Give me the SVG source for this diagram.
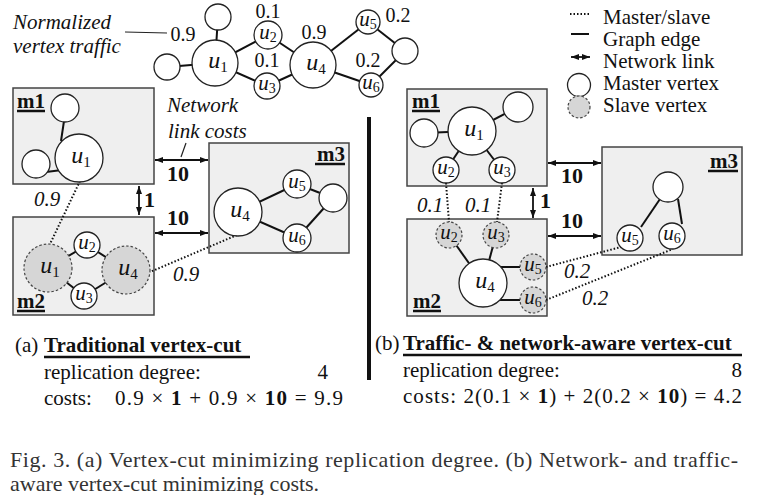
<svg xmlns="http://www.w3.org/2000/svg" width="758" height="495" viewBox="0 0 758 495">
<defs>
<marker id="ah" viewBox="0 0 8 6" refX="8" refY="3" markerWidth="8" markerHeight="6" markerUnits="userSpaceOnUse" orient="auto-start-reverse"><path d="M0,0 L8,3 L0,6 z" fill="#111"/></marker>
<style>
text{font-family:"Liberation Serif","Times New Roman",serif;fill:#111}
.t{font-size:21px}
.it{font-size:21px;font-style:italic}
.num{font-size:20px;text-anchor:middle}
.inum{font-size:21px;font-style:italic;text-anchor:middle}
.b{font-weight:bold}
.bn{font-size:22px;font-weight:bold}
.box{fill:#efefef;stroke:#444;stroke-width:1.5}
.mv{fill:#fff;stroke:#222;stroke-width:1.3}
.sv{fill:#d6d6d6;stroke:#444;stroke-width:1.2;stroke-dasharray:2.5 2}
.e{stroke:#111;stroke-width:2;fill:none}
.ms{stroke:#111;stroke-width:2;stroke-dasharray:1.5 2;fill:none}
.nl{stroke:#111;stroke-width:1.8}
.ptr{stroke:#222;stroke-width:1.2}
.ul{stroke:#111;stroke-width:2.5}
.u{font-size:24px;text-anchor:middle}
.us{font-size:21px;text-anchor:middle}
.i{font-style:italic}
.s{font-size:15px}
.us .s{font-size:14px}
.ml{font-size:21px;font-weight:bold}
.cap{font-size:22px;fill:#333}
</style>
</defs>
<rect width="758" height="495" fill="#fff"/>

<!-- machine boxes -->
<g id="a-m1"><rect class="box" x="13" y="88" width="141" height="96"/><text class="ml" x="17" y="108">m1</text><line class="ul" x1="17" y1="111" x2="45" y2="111"/></g>
<g id="a-m2"><rect class="box" x="13" y="217" width="141" height="98"/><text class="ml" x="17" y="308">m2</text><line class="ul" x1="17" y1="311" x2="45" y2="311"/></g>
<g id="a-m3"><rect class="box" x="209" y="143" width="140" height="110"/><text class="ml" x="345" y="161" text-anchor="end">m3</text><line class="ul" x1="315" y1="164" x2="345" y2="164"/></g>
<g id="b-m1"><rect class="box" x="407" y="89" width="140" height="97"/><text class="ml" x="412" y="108">m1</text><line class="ul" x1="412" y1="111" x2="440" y2="111"/></g>
<g id="b-m2"><rect class="box" x="407" y="219" width="140" height="97"/><text class="ml" x="413" y="308">m2</text><line class="ul" x1="413" y1="311" x2="441" y2="311"/></g>
<g id="b-m3"><rect class="box" x="602" y="147" width="140" height="108"/><text class="ml" x="738" y="168" text-anchor="end">m3</text><line class="ul" x1="708" y1="171" x2="738" y2="171"/></g>

<!-- connectors -->
<g id="connectors">
  <!-- top graph -->
  <line class="e" x1="218" y1="17" x2="215" y2="63"/>
  <line class="e" x1="167" y1="67" x2="215" y2="63"/>
  <line class="e" x1="215" y1="63" x2="268" y2="35"/>
  <line class="e" x1="215" y1="63" x2="267" y2="86"/>
  <line class="e" x1="268" y1="35" x2="313" y2="65"/>
  <line class="e" x1="267" y1="86" x2="313" y2="65"/>
  <line class="e" x1="313" y1="65" x2="368" y2="22"/>
  <line class="e" x1="313" y1="65" x2="371" y2="85"/>
  <line class="e" x1="368" y1="22" x2="405" y2="51"/>
  <line class="e" x1="371" y1="85" x2="405" y2="51"/>
  <line class="ptr" x1="125" y1="32" x2="167" y2="33"/>
  <!-- (a) -->
  <line class="e" x1="64" y1="121" x2="61" y2="141"/>
  <line class="e" x1="46" y1="172" x2="62" y2="170"/>
  <line class="e" x1="238" y1="212" x2="297" y2="184"/>
  <line class="e" x1="238" y1="212" x2="297" y2="238"/>
  <line class="e" x1="297" y1="184" x2="333" y2="198"/>
  <line class="e" x1="297" y1="238" x2="333" y2="198"/>
  <line class="e" x1="48" y1="268" x2="87" y2="245"/>
  <line class="e" x1="87" y1="245" x2="126" y2="270"/>
  <line class="e" x1="48" y1="268" x2="84" y2="296"/>
  <line class="e" x1="84" y1="296" x2="126" y2="270"/>
  <line class="ms" x1="80" y1="181" x2="50" y2="244"/>
  <line class="ms" x1="237" y1="235" x2="150" y2="272"/>
  <line class="nl" x1="139" y1="186" x2="139" y2="215" marker-start="url(#ah)" marker-end="url(#ah)"/>
  <line class="nl" x1="155" y1="160" x2="208" y2="160" marker-start="url(#ah)" marker-end="url(#ah)"/>
  <line class="nl" x1="155" y1="233" x2="208" y2="233" marker-start="url(#ah)" marker-end="url(#ah)"/>
  <line class="ptr" x1="186" y1="143" x2="181" y2="157"/>
  <!-- (b) -->
  <line class="e" x1="424" y1="133" x2="472" y2="131"/>
  <line class="e" x1="472" y1="131" x2="518" y2="107"/>
  <line class="e" x1="472" y1="131" x2="446" y2="170"/>
  <line class="e" x1="472" y1="131" x2="502" y2="170"/>
  <line class="e" x1="660" y1="199" x2="641" y2="227"/>
  <line class="e" x1="678" y1="199" x2="682" y2="224"/>
  <line class="e" x1="449" y1="235" x2="483" y2="283"/>
  <line class="e" x1="496" y1="235" x2="483" y2="283"/>
  <line class="e" x1="500" y1="267" x2="521" y2="267"/>
  <line class="e" x1="500" y1="300" x2="521" y2="300"/>
  <line class="ms" x1="446" y1="183" x2="449" y2="222"/>
  <line class="ms" x1="502" y1="183" x2="497" y2="222"/>
  <line class="ms" x1="546" y1="267" x2="621" y2="247"/>
  <line class="ms" x1="546" y1="300" x2="673" y2="249"/>
  <line class="nl" x1="533" y1="188" x2="533" y2="218" marker-start="url(#ah)" marker-end="url(#ah)"/>
  <line class="nl" x1="548" y1="163" x2="601" y2="163" marker-start="url(#ah)" marker-end="url(#ah)"/>
  <line class="nl" x1="548" y1="236" x2="601" y2="236" marker-start="url(#ah)" marker-end="url(#ah)"/>
  <!-- divider -->
  <line x1="369" y1="117" x2="369" y2="380" stroke="#111" stroke-width="4"/>
</g>

<!-- top graph vertices -->
<g id="top-v-a"><circle class="mv" cx="218" cy="17" r="13"/></g>
<g id="top-v-b"><circle class="mv" cx="167" cy="67" r="13"/></g>
<g id="top-u1"><circle class="mv" cx="215" cy="63" r="23"/><text class="u" x="218" y="68"><tspan class="i">u</tspan><tspan class="s" dy="4">1</tspan></text></g>
<g id="top-u2"><circle class="mv" cx="268" cy="35" r="14"/><text class="us" x="268" y="39"><tspan class="i">u</tspan><tspan class="s" dy="3">2</tspan></text></g>
<g id="top-u3"><circle class="mv" cx="267" cy="86" r="13"/><text class="us" x="267" y="90"><tspan class="i">u</tspan><tspan class="s" dy="3">3</tspan></text></g>
<g id="top-u4"><circle class="mv" cx="313" cy="65" r="23"/><text class="u" x="316" y="70"><tspan class="i">u</tspan><tspan class="s" dy="4">4</tspan></text></g>
<g id="top-u5"><circle class="mv" cx="368" cy="22" r="12"/><text class="us" x="368" y="26"><tspan class="i">u</tspan><tspan class="s" dy="3">5</tspan></text></g>
<g id="top-u6"><circle class="mv" cx="371" cy="85" r="12"/><text class="us" x="371" y="89"><tspan class="i">u</tspan><tspan class="s" dy="3">6</tspan></text></g>
<g id="top-v-c"><circle class="mv" cx="405" cy="51" r="13"/></g>

<!-- top graph labels -->
<g id="top-labels">
  <text class="it" x="13" y="29">Normalized</text>
  <text class="it" x="13" y="53">vertex traffic</text>
  <text class="num" x="183" y="41">0.9</text>
  <text class="num" x="268" y="18">0.1</text>
  <text class="num" x="314" y="39">0.9</text>
  <text class="num" x="267" y="67">0.1</text>
  <text class="num" x="398" y="22">0.2</text>
  <text class="num" x="368" y="67">0.2</text>
</g>

<!-- (a) vertices -->
<g id="a-m1-va"><circle class="mv" cx="65" cy="108" r="14"/></g>
<g id="a-m1-vb"><circle class="mv" cx="36" cy="164" r="14"/></g>
<g id="a-m1-u1"><circle class="mv" cx="79" cy="158" r="24"/><text class="u" x="81" y="163"><tspan class="i">u</tspan><tspan class="s" dy="4">1</tspan></text></g>
<g id="a-m3-u4"><circle class="mv" cx="238" cy="212" r="24"/><text class="u" x="240" y="217"><tspan class="i">u</tspan><tspan class="s" dy="4">4</tspan></text></g>
<g id="a-m3-u5"><circle class="mv" cx="297" cy="184" r="14"/><text class="us" x="297" y="188"><tspan class="i">u</tspan><tspan class="s" dy="3">5</tspan></text></g>
<g id="a-m3-u6"><circle class="mv" cx="297" cy="238" r="14"/><text class="us" x="297" y="242"><tspan class="i">u</tspan><tspan class="s" dy="3">6</tspan></text></g>
<g id="a-m3-vc"><circle class="mv" cx="333" cy="198" r="14"/></g>
<g id="a-m2-u1s"><circle class="sv" cx="48" cy="268" r="24"/><text class="u" x="50" y="273"><tspan class="i">u</tspan><tspan class="s" dy="4">1</tspan></text></g>
<g id="a-m2-u4s"><circle class="sv" cx="126" cy="270" r="24"/><text class="u" x="128" y="275"><tspan class="i">u</tspan><tspan class="s" dy="4">4</tspan></text></g>
<g id="a-m2-u2"><circle class="mv" cx="87" cy="245" r="13"/><text class="us" x="87" y="249"><tspan class="i">u</tspan><tspan class="s" dy="3">2</tspan></text></g>
<g id="a-m2-u3"><circle class="mv" cx="84" cy="296" r="13"/><text class="us" x="84" y="300"><tspan class="i">u</tspan><tspan class="s" dy="3">3</tspan></text></g>

<!-- (a) labels -->
<g id="a-labels">
  <text class="inum" x="47" y="206">0.9</text>
  <text class="inum" x="186" y="281">0.9</text>
  <text class="bn" x="144" y="207">1</text>
  <text class="bn" x="178" y="181" text-anchor="middle">10</text>
  <text class="bn" x="178" y="225" text-anchor="middle">10</text>
  <text class="it" x="167" y="112">Network</text>
  <text class="it" x="168" y="138">link costs</text>
</g>

<!-- (b) vertices -->
<g id="b-m1-va"><circle class="mv" cx="424" cy="133" r="14"/></g>
<g id="b-m1-vb"><circle class="mv" cx="518" cy="107" r="15"/></g>
<g id="b-m1-u1"><circle class="mv" cx="472" cy="131" r="24"/><text class="u" x="474" y="136"><tspan class="i">u</tspan><tspan class="s" dy="4">1</tspan></text></g>
<g id="b-m1-u2"><circle class="mv" cx="446" cy="170" r="13"/><text class="us" x="446" y="174"><tspan class="i">u</tspan><tspan class="s" dy="3">2</tspan></text></g>
<g id="b-m1-u3"><circle class="mv" cx="502" cy="170" r="13"/><text class="us" x="502" y="174"><tspan class="i">u</tspan><tspan class="s" dy="3">3</tspan></text></g>
<g id="b-m3-vc"><circle class="mv" cx="668" cy="187" r="15"/></g>
<g id="b-m3-u5"><circle class="mv" cx="630" cy="238" r="13"/><text class="us" x="630" y="242"><tspan class="i">u</tspan><tspan class="s" dy="3">5</tspan></text></g>
<g id="b-m3-u6"><circle class="mv" cx="672" cy="236" r="13"/><text class="us" x="672" y="240"><tspan class="i">u</tspan><tspan class="s" dy="3">6</tspan></text></g>
<g id="b-m2-u2s"><circle class="sv" cx="449" cy="235" r="13"/><text class="us" x="449" y="239"><tspan class="i">u</tspan><tspan class="s" dy="3">2</tspan></text></g>
<g id="b-m2-u3s"><circle class="sv" cx="496" cy="235" r="13"/><text class="us" x="496" y="239"><tspan class="i">u</tspan><tspan class="s" dy="3">3</tspan></text></g>
<g id="b-m2-u4"><circle class="mv" cx="483" cy="283" r="24"/><text class="u" x="485" y="288"><tspan class="i">u</tspan><tspan class="s" dy="4">4</tspan></text></g>
<g id="b-m2-u5s"><circle class="sv" cx="533" cy="267" r="13"/><text class="us" x="533" y="271"><tspan class="i">u</tspan><tspan class="s" dy="3">5</tspan></text></g>
<g id="b-m2-u6s"><circle class="sv" cx="533" cy="300" r="13"/><text class="us" x="533" y="304"><tspan class="i">u</tspan><tspan class="s" dy="3">6</tspan></text></g>

<!-- (b) labels -->
<g id="b-labels">
  <text class="inum" x="430" y="212">0.1</text>
  <text class="inum" x="478" y="212">0.1</text>
  <text class="inum" x="577" y="278">0.2</text>
  <text class="inum" x="595" y="305">0.2</text>
  <text class="bn" x="540" y="208">1</text>
  <text class="bn" x="572" y="183" text-anchor="middle">10</text>
  <text class="bn" x="572" y="228" text-anchor="middle">10</text>
</g>

<!-- legend -->
<g id="legend">
  <line class="ms" x1="570" y1="14" x2="590" y2="14" stroke-width="1.5"/>
  <line class="e" x1="571" y1="34" x2="589" y2="34"/>
  <line class="nl" x1="571" y1="57" x2="590" y2="57" marker-start="url(#ah)" marker-end="url(#ah)"/>
  <circle class="mv" cx="579" cy="85" r="11.5"/>
  <circle class="sv" cx="579" cy="107" r="11"/>
  <text class="t" x="603" y="24">Master/slave</text>
  <text class="t" x="603" y="46">Graph edge</text>
  <text class="t" x="603" y="68">Network link</text>
  <text class="t" x="603" y="90">Master vertex</text>
  <text class="t" x="603" y="112">Slave vertex</text>
</g>

<!-- bottom summaries -->
<g id="summary-a">
  <text class="t" x="15" y="352">(a)</text>
  <text class="t b" x="44" y="352" font-size="21.6">Traditional vertex-cut</text>
  <line class="ul" x1="44" y1="357" x2="250" y2="357"/>
  <text class="t" x="44" y="379">replication degree:</text>
  <text class="t" x="328" y="379" text-anchor="end">4</text>
  <text class="t" x="44" y="405">costs:</text>
  <text class="t" x="115" y="405" textLength="228" lengthAdjust="spacing">0.9 × <tspan class="b">1</tspan> + 0.9 × <tspan class="b">10</tspan> = 9.9</text>
</g>
<g id="summary-b">
  <text class="t" x="375" y="350">(b)</text>
  <text class="t b" x="403" y="350" font-size="21.5">Traffic- &amp; network-aware vertex-cut</text>
  <line class="ul" x1="403" y1="355" x2="742" y2="355"/>
  <text class="t" x="403" y="377">replication degree:</text>
  <text class="t" x="742" y="377" text-anchor="end">8</text>
  <text class="t" x="403" y="403" textLength="339" lengthAdjust="spacing">costs: 2(0.1 × <tspan class="b">1</tspan>) + 2(0.2 × <tspan class="b">10</tspan>) = 4.2</text>
</g>

<!-- caption -->
<g id="caption">
  <text class="cap" x="10" y="467" textLength="728" lengthAdjust="spacing">Fig. 3.  (a) Vertex-cut minimizing replication degree. (b) Network- and traffic-</text>
  <text class="cap" x="10" y="491">aware vertex-cut minimizing costs.</text>
</g>
</svg>
